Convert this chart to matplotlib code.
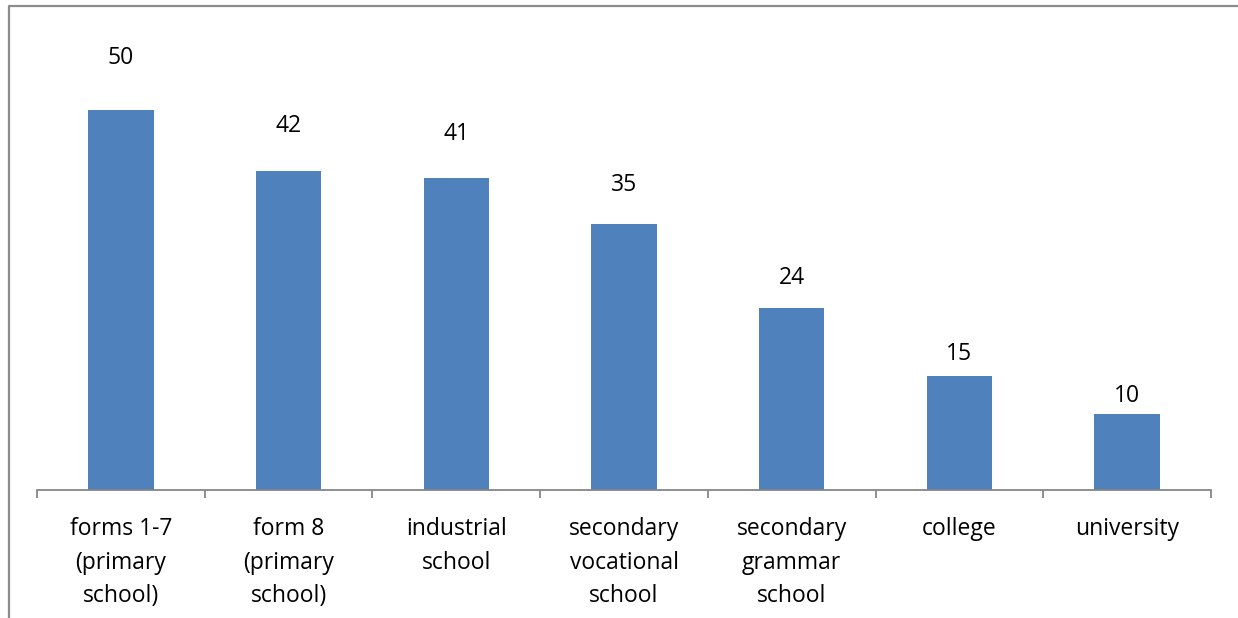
import matplotlib
matplotlib.use("Agg")
import matplotlib.pyplot as plt
from matplotlib.lines import Line2D
import numpy as np

categories = ["forms 1-7\n(primary\nschool)", "form 8\n(primary\nschool)", "industrial\nschool",
              "secondary\nvocational\nschool", "secondary\ngrammar\nschool", "college", "university"]
values = [50, 42, 41, 35, 24, 15, 10]

plt.rcParams['font.family'] = ['Open Sans', 'DejaVu Sans']

W, H = 1238, 618
fig = plt.figure(figsize=(W / 100, H / 100), dpi=100)
ax = fig.add_axes([37 / W, 1 - 490 / H, (1211 - 37) / W, (490 - 34) / H])

x = np.arange(len(values))
ax.bar(x, values, width=0.39, color="#4F81BD", zorder=2)
ax.set_xlim(-0.5, len(values) - 0.5)
ax.set_ylim(0, 60)

for xi, v in zip(x, values):
    ax.text(xi, v * 1.112 + 1.2, str(v), ha="center", va="center", fontsize=16.5, color="black")

ax.set_xticks(x)
ax.set_xticklabels(categories, fontsize=16.5, linespacing=1.53, va="top")
ax.tick_params(axis="x", which="major", length=0, pad=19.5)
ax.set_xticks(np.arange(-0.5, len(values)), minor=True)
ax.tick_params(axis="x", which="minor", length=5.5, width=1.3, color="#868686", direction="out")
ax.set_yticks([])
for s in ["top", "right", "left"]:
    ax.spines[s].set_visible(False)
ax.spines["bottom"].set_color("#868686")
ax.spines["bottom"].set_linewidth(1.3)

# outer chart border (cropped: only left and top visible)
fig.add_artist(Line2D([8.5 / W, 8.5 / W, 1.0], [0.0, 1 - 5.5 / H, 1 - 5.5 / H],
                      transform=fig.transFigure, color="#8C8C8C", linewidth=1.6))

fig.savefig("out.png", dpi=100)
